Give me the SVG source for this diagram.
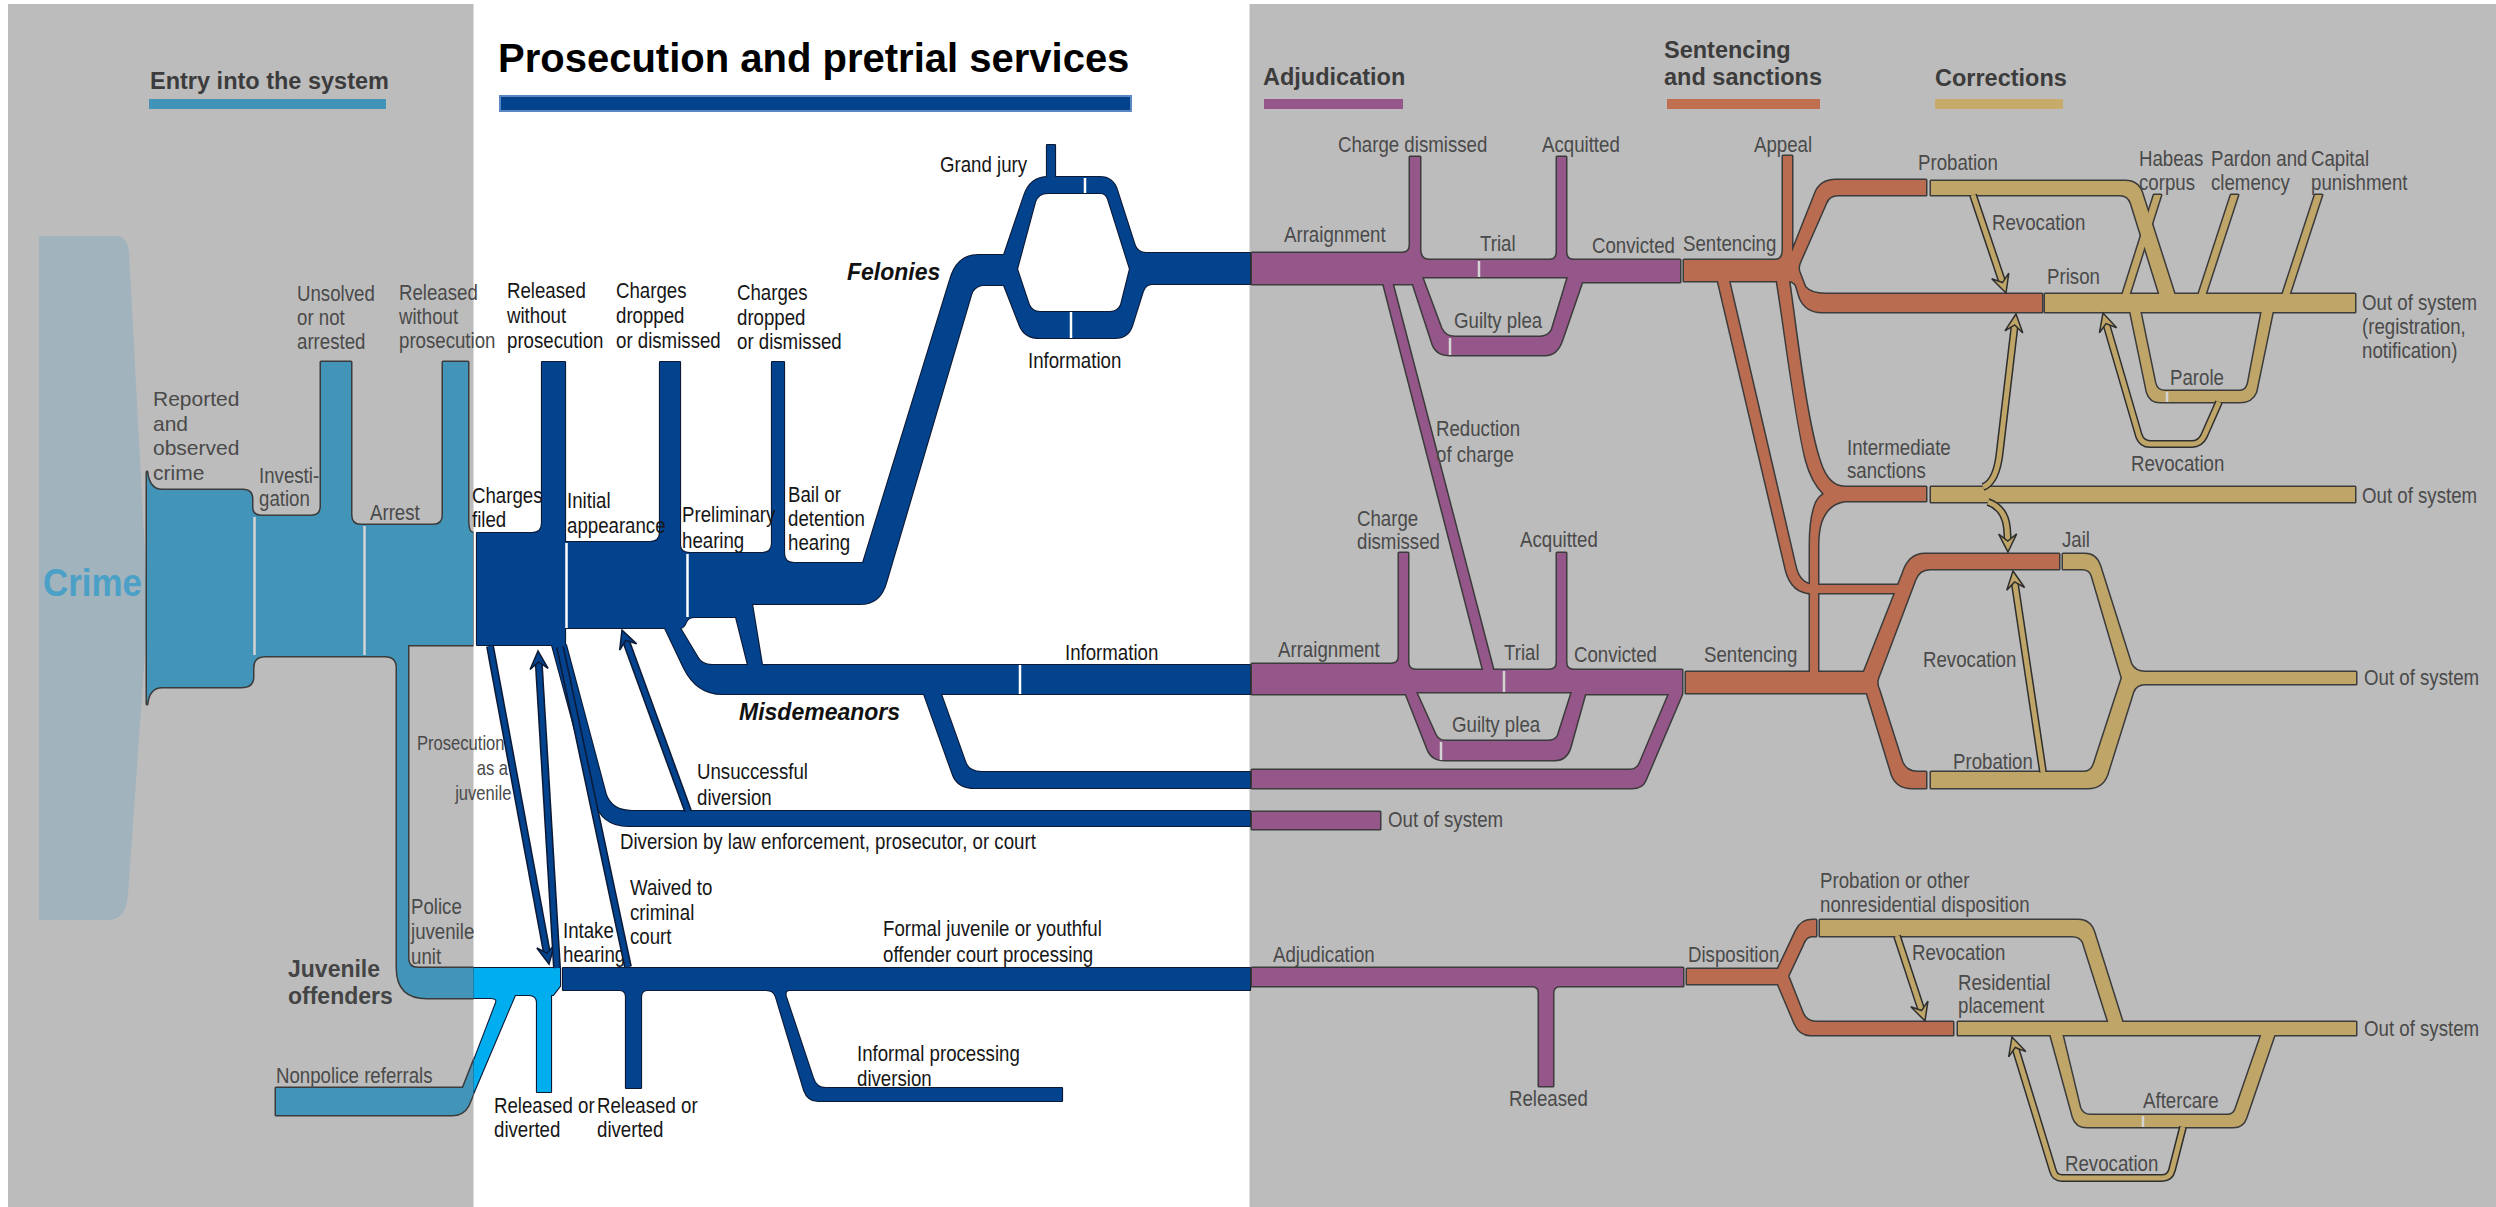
<svg xmlns="http://www.w3.org/2000/svg" width="2496" height="1207" viewBox="0 0 2496 1207">
<defs>
<style>
.ol{fill:#3b3b3b;stroke:#3b3b3b;stroke-width:3;stroke-linejoin:round}
.olw{fill:#0c1a36;stroke:#0c1a36;stroke-width:2.2;stroke-linejoin:round}
.fE{fill:#4295b8}
.fC{fill:#00aeef}
.fB{fill:#03428d}
.fP{fill:#955789}
.fO{fill:#b96c4f}
.fT{fill:#bfa668}
.sg{stroke:#d4d4d4;stroke-width:2.5}
.sw{stroke:#ffffff;stroke-width:2.5}
.aO{fill:none;stroke:#2e2e2e;stroke-width:8;stroke-linejoin:round}
.aOw{fill:none;stroke:#0c1a36;stroke-width:8;stroke-linejoin:round}
.aT{fill:none;stroke:#bfa668;stroke-width:5;stroke-linejoin:round}
.aB{fill:none;stroke:#03428d;stroke-width:5;stroke-linejoin:round}
.hT{fill:#bfa668;stroke:#2e2e2e;stroke-width:1.5}
.hB{fill:#03428d;stroke:#0c1a36;stroke-width:1.5}
text{font-family:"Liberation Sans",Arial,sans-serif;font-size:22.5px;fill:#4a4a4a}
.w{fill:#161616}
.r{font-size:21px}
.t{font-weight:bold;font-size:23.5px;fill:#3c3c3c}
.big{font-weight:bold;font-size:40px;fill:#000}
.bi{font-weight:bold;font-style:italic;font-size:23px;fill:#111}
.jb{font-weight:bold;font-size:23px;fill:#444}
.crime{font-weight:bold;font-size:38px;fill:#4aa0c6}
</style>
<clipPath id="cL"><rect x="0" y="0" width="473.5" height="1207"/></clipPath>
<clipPath id="cW"><rect x="473.5" y="0" width="776" height="1207"/></clipPath>
<polygon id="hd" points="0,0 -18,-9 -11,0 -18,9"/>
<g id="sE">
<path d="M147,472 Q149,490 162,490 H243 Q252,490 252,499 V507 Q252,516 261,516 H311 Q321,516 321,506 V362 H351 V515 Q351,525 361,525 H433 Q443,525 443,515 V362 H468 V520 Q468,533 473,533 V645 H408 V958 Q408,968 418,968 H482 V998 H427 Q397,998 397,968 V668 Q397,656 385,656 H265 Q253,656 253,668 V677 Q253,687 241,687 H162 Q149,687 147,704 Z"/>
<path d="M276,1088 H463 L478,1050 H492 L468,1106 Q463,1115 452,1115 H276 Z"/>
</g>
<g id="sC">
<path d="M466,968 H560 V986 L553,995 H551 V1092 H537 V1003 Q537,995 529,995 H515 L465,1113 V1084 L496,1003 Q498,998 490,998 H466 Z"/>
</g>
<g id="sB">
<path d="M477,533 H532 Q542,533 542,523 V362 H565 V542 H570 V628 H565 V645 H477 Z"/>
<path fill-rule="evenodd" d="M568,542 H650 Q660,542 660,532 V362 H680 V545 Q680,553 690,553 H762 Q772,553 772,543 V362 H784 V553 Q784,563 794,563 H863 L950,280 Q957,255 978,255 H1004 L1024,196 Q1030,177 1048,177 H1100 Q1113,177 1117,190 L1135,246 Q1138,253 1146,253 H1250 V284 H1152 Q1146,284 1143,291 L1132,326 Q1128,338 1115,338 H1040 Q1025,338 1020,326 L1004,285 H982 Q973,287 971,295 L886,583 Q880,604 860,604 H752 L762,665 H1250 V694 H722 Q697,694 684,668 L665,628 H568 Z M1017,269 L1035,202 Q1038,193 1048,193 H1100 Q1106,193 1108,199 L1130,269 L1121,305 Q1118,312 1110,312 H1040 Q1032,312 1029,305 Z M680,628 Q684,628 686,622 Q688,617 695,617 H736 L748,665 H712 Q702,665 698,658 Z"/>
<path d="M1047,145 H1055 V180 H1047 Z"/>
<path d="M552,645 H566 L606,795 Q612,811 632,811 H1250 V826 H628 Q602,826 594,800 Z"/>
<path d="M924,694 H941 L966,764 Q970,772 982,772 H1250 V788 H975 Q958,788 953,775 Z"/>
<path d="M563,968 H1250 V990 H790 Q784,990 786,997 L813,1078 Q816,1088 826,1088 H1062 V1101 H818 Q808,1101 804,1090 L776,997 Q774,990 766,990 H648 Q641,990 641,997 V1088 H626 V997 Q626,990 619,990 H563 Z"/>
</g>
<g id="sP">
<path fill-rule="evenodd" d="M1252,253 H1402 Q1410,253 1410,245 V157 H1420 V250 Q1420,260 1430,260 H1549 Q1557,260 1557,252 V157 H1566 V252 Q1566,260 1574,260 H1680 V282 H1582 L1562,340 Q1557,355 1545,355 H1450 Q1437,355 1433,345 L1413,284 H1252 Z M1422,277 H1568 L1552,330 Q1548,337 1540,337 H1455 Q1445,337 1441,328 Z"/>
<path d="M1383,282 H1392 L1494,673 H1484 Z"/>
<path fill-rule="evenodd" d="M1252,664 H1391 Q1399,664 1399,656 V553 H1408 V662 Q1408,670 1416,670 H1549 Q1557,670 1557,662 V553 H1566 V662 Q1566,670 1574,670 H1682 V694 L1645,781 Q1642,788 1632,788 H1252 V770 H1630 Q1637,770 1640,763 L1669,694 H1585 L1570,748 Q1566,760 1555,760 H1445 Q1432,760 1428,750 L1406,694 H1252 Z M1416,692 H1572 L1558,736 Q1555,741 1548,741 H1445 Q1438,741 1435,734 Z"/>
<path d="M1252,812 H1380 V829 H1252 Z"/>
<path d="M1252,968 H1683 V986 H1560 Q1553,986 1553,993 V1086 H1539 V993 Q1539,986 1532,986 H1252 Z"/>
</g>
<g id="sO">
<path d="M1684,260 H1775 Q1783,260 1783,250 V156 H1792 V252 L1815,194 Q1820,180 1836,180 H1926 V195 H1838 Q1829,195 1826,203 L1800,262 Q1797,268 1800,274 L1805,287 Q1811,294 1825,294 H2042 V312 H1822 Q1806,312 1800,298 L1796,285 Q1793,281 1788,281 H1684 Z"/>
<path d="M1777,281 H1789 C1796,330 1806,420 1820,462 Q1828,487 1845,487 H1926 V501 H1845 Q1828,503 1821,522 Q1818,532 1818,545 V675 H1810 V545 Q1810,518 1816,503 Q1819,497 1824,494 Q1812,482 1806,460 C1795,415 1785,330 1777,281 Z"/>
<path d="M1718,281 H1729 L1795,565 Q1799,585 1815,585 H1905 V593 H1812 Q1792,593 1786,570 Z"/>
<path d="M1686,672 H1864 L1903,573 Q1909,554 1925,554 H2059 V569 H1930 Q1919,569 1915,580 L1878,678 Q1876,684 1879,690 L1902,762 Q1906,772 1918,772 H1926 V788 H1912 Q1897,788 1892,775 L1867,693 H1686 Z"/>
<path d="M1687,969 H1778 L1796,931 Q1801,920 1812,920 H1816 V936 H1812 Q1806,936 1803,944 L1788,976 L1803,1014 Q1807,1022 1817,1022 H1953 V1035 H1810 Q1800,1035 1795,1024 L1778,984 H1687 Z"/>
</g>
<g id="sT">
<path d="M1931,181 H2125 Q2138,181 2142,193 L2175,296 H2160 L2131,203 Q2128,195 2120,195 H1931 Z"/>
<path d="M2045,294 H2355 V312 H2045 Z"/>
<path d="M2130,310 H2140 L2155,383 Q2157,391 2165,391 H2240 Q2246,391 2248,384 L2262,310 H2273 L2256,392 Q2252,402 2240,402 H2160 Q2150,402 2147,392 Z"/>
<path d="M2154,195 H2161 L2129,296 H2122 Z"/>
<path d="M2231,195 H2238 L2205,296 H2198 Z"/>
<path d="M2315,195 H2322 L2289,296 H2282 Z"/>
<path d="M1931,487 H2355 V502 H1931 Z"/>
<path d="M2063,554 H2085 Q2096,554 2100,566 L2131,664 Q2135,672 2145,672 H2356 V684 H2145 Q2136,684 2133,692 L2107,775 Q2102,788 2088,788 H1931 V772 H2084 Q2091,772 2094,764 L2122,678 L2092,576 Q2090,569 2082,569 H2063 Z"/>
<path d="M1820,920 H2078 Q2090,920 2094,932 L2123,1024 H2109 L2083,942 Q2080,936 2072,936 H1820 Z"/>
<path d="M1958,1022 H2356 V1035 H1958 Z"/>
<path d="M2050,1033 H2062 L2080,1108 Q2083,1115 2090,1115 H2228 Q2234,1115 2236,1108 L2262,1033 H2275 L2246,1118 Q2243,1127 2233,1127 H2087 Q2076,1127 2073,1117 Z"/>
</g>
</defs>

<rect x="0" y="0" width="2496" height="1207" fill="#ffffff"/>
<rect x="8" y="4" width="465.5" height="1203" fill="#bcbcbc"/>
<rect x="1249.5" y="4" width="1246.5" height="1203" fill="#bcbcbc"/>

<g id="titles">
<text class="t" x="150" y="89">Entry into the system</text>
<rect x="149" y="99" width="237" height="10" fill="#4194b7"/>
<text class="big" x="498" y="72">Prosecution and pretrial services</text>
<rect x="500" y="96" width="631" height="15" fill="#03428d" stroke="#5b87c2" stroke-width="2"/>
<text class="t" x="1263" y="85">Adjudication</text>
<rect x="1264" y="99" width="139" height="10" fill="#955789"/>
<text class="t" x="1664" y="58">Sentencing</text>
<text class="t" x="1664" y="85">and sanctions</text>
<rect x="1667" y="99" width="153" height="10" fill="#bf6f50"/>
<text class="t" x="1935" y="86">Corrections</text>
<rect x="1935" y="99" width="128" height="10" fill="#c6ab6a"/>
</g>

<g id="entry">
<path d="M39,236 H116 Q127,236 129,252 L148,610 L128,895 Q126,920 108,920 H39 Z" fill="#a1b3bd"/>
<text class="crime" x="43" y="596" textLength="99" lengthAdjust="spacingAndGlyphs">Crime</text>
<g clip-path="url(#cL)">
<use href="#sE" class="ol"/>
<use href="#sE" class="fE"/>
</g>
<line class="sg" x1="254.5" y1="517" x2="254.5" y2="655"/>
<line class="sg" x1="364.5" y1="526" x2="364.5" y2="655"/>
<text transform="translate(297 0) scale(.83 1)"><tspan x="0" y="301">Unsolved</tspan><tspan x="0" y="325">or not</tspan><tspan x="0" y="349">arrested</tspan></text>
<text transform="translate(399 0) scale(.83 1)"><tspan x="0" y="300">Released</tspan><tspan x="0" y="324">without</tspan><tspan x="0" y="348">prosecution</tspan></text>
<text class="r"><tspan x="153" y="406">Reported</tspan><tspan x="153" y="431">and</tspan><tspan x="153" y="455">observed</tspan><tspan x="153" y="480">crime</tspan></text>
<text transform="translate(259 0) scale(.83 1)"><tspan x="0" y="483">Investi-</tspan><tspan x="0" y="506">gation</tspan></text>
<text transform="translate(370 0) scale(.83 1)" y="520">Arrest</text>
<text class="w" transform="translate(472 0) scale(.83 1)"><tspan x="0" y="503">Charges</tspan><tspan x="0" y="527">filed</tspan></text>
<text style="font-size:20px" transform="translate(417 0) scale(.83 1)"><tspan x="0" y="750">Prosecution</tspan><tspan x="72" y="775">as a</tspan><tspan x="46" y="800">juvenile</tspan></text>
<text transform="translate(411 0) scale(.83 1)"><tspan x="0" y="914">Police</tspan><tspan x="0" y="939">juvenile</tspan><tspan x="0" y="964">unit</tspan></text>
<text class="jb"><tspan x="288" y="977">Juvenile</tspan><tspan x="288" y="1004">offenders</tspan></text>
<text transform="translate(276 0) scale(.83 1)" y="1083">Nonpolice referrals</text>
</g>

<g id="juvenile-intake">
<g clip-path="url(#cW)">
<use href="#sC" class="olw"/>
<use href="#sC" class="fC"/>
</g>
</g>

<g id="prosecution">
<use href="#sB" class="olw"/>
<use href="#sB" class="fB"/>
<line class="sw" x1="566.5" y1="543" x2="566.5" y2="628"/>
<line class="sw" x1="687.5" y1="554" x2="687.5" y2="617"/>
<line class="sw" x1="1085" y1="178" x2="1085" y2="193"/>
<line class="sw" x1="1071" y1="312" x2="1071" y2="338"/>
<line class="sw" x1="1020" y1="665" x2="1020" y2="694"/>
<text class="w" transform="translate(507 0) scale(.83 1)"><tspan x="0" y="298">Released</tspan><tspan x="0" y="323">without</tspan><tspan x="0" y="348">prosecution</tspan></text>
<text class="w" transform="translate(616 0) scale(.83 1)"><tspan x="0" y="298">Charges</tspan><tspan x="0" y="323">dropped</tspan><tspan x="0" y="348">or dismissed</tspan></text>
<text class="w" transform="translate(737 0) scale(.83 1)"><tspan x="0" y="300">Charges</tspan><tspan x="0" y="325">dropped</tspan><tspan x="0" y="349">or dismissed</tspan></text>
<text class="w" transform="translate(567 0) scale(.83 1)"><tspan x="0" y="508">Initial</tspan><tspan x="0" y="533">appearance</tspan></text>
<text class="w" transform="translate(682 0) scale(.83 1)"><tspan x="0" y="522">Preliminary</tspan><tspan x="0" y="548">hearing</tspan></text>
<text class="w" transform="translate(788 0) scale(.83 1)"><tspan x="0" y="502">Bail or</tspan><tspan x="0" y="526">detention</tspan><tspan x="0" y="550">hearing</tspan></text>
<text class="bi" x="847" y="280">Felonies</text>
<text class="w" transform="translate(940 0) scale(.83 1)" y="172">Grand jury</text>
<text class="w" transform="translate(1028 0) scale(.83 1)" y="368">Information</text>
<text class="w" transform="translate(1065 0) scale(.83 1)" y="660">Information</text>
<text class="bi" x="739" y="720">Misdemeanors</text>
<text class="w" transform="translate(697 0) scale(.83 1)"><tspan x="0" y="779">Unsuccessful</tspan><tspan x="0" y="805">diversion</tspan></text>
<text class="w" transform="translate(620 0) scale(.83 1)" y="849">Diversion by law enforcement, prosecutor, or court</text>
<text class="w" transform="translate(630 0) scale(.83 1)"><tspan x="0" y="895">Waived to</tspan><tspan x="0" y="920">criminal</tspan><tspan x="0" y="944">court</tspan></text>
<text class="w" transform="translate(563 0) scale(.83 1)"><tspan x="0" y="938">Intake</tspan><tspan x="0" y="962">hearing</tspan></text>
<text class="w" transform="translate(883 0) scale(.83 1)"><tspan x="0" y="936">Formal juvenile or youthful</tspan><tspan x="0" y="962">offender court processing</tspan></text>
<text class="w" transform="translate(857 0) scale(.83 1)"><tspan x="0" y="1061">Informal processing</tspan><tspan x="0" y="1086">diversion</tspan></text>
<text class="w" transform="translate(494 0) scale(.83 1)"><tspan x="0" y="1113">Released or</tspan><tspan x="0" y="1137">diverted</tspan></text>
<text class="w" transform="translate(597 0) scale(.83 1)"><tspan x="0" y="1113">Released or</tspan><tspan x="0" y="1137">diverted</tspan></text>
</g>

<g id="adjudication">
<use href="#sP" class="ol"/>
<use href="#sP" class="fP"/>
<line class="sg" x1="1479" y1="261" x2="1479" y2="277"/>
<line class="sg" x1="1450" y1="338" x2="1450" y2="355"/>
<line class="sg" x1="1504" y1="671" x2="1504" y2="692"/>
<line class="sg" x1="1441" y1="742" x2="1441" y2="760"/>
<text transform="translate(1338 0) scale(.83 1)" y="152">Charge dismissed</text>
<text transform="translate(1542 0) scale(.83 1)" y="152">Acquitted</text>
<text transform="translate(1284 0) scale(.83 1)" y="242">Arraignment</text>
<text transform="translate(1480 0) scale(.83 1)" y="251">Trial</text>
<text transform="translate(1592 0) scale(.83 1)" y="253">Convicted</text>
<text transform="translate(1454 0) scale(.83 1)" y="328">Guilty plea</text>
<text transform="translate(1436 0) scale(.83 1)"><tspan x="0" y="436">Reduction</tspan><tspan x="0" y="462">of charge</tspan></text>
<text transform="translate(1357 0) scale(.83 1)"><tspan x="0" y="526">Charge</tspan><tspan x="0" y="549">dismissed</tspan></text>
<text transform="translate(1520 0) scale(.83 1)" y="547">Acquitted</text>
<text transform="translate(1278 0) scale(.83 1)" y="657">Arraignment</text>
<text transform="translate(1504 0) scale(.83 1)" y="660">Trial</text>
<text transform="translate(1574 0) scale(.83 1)" y="662">Convicted</text>
<text transform="translate(1452 0) scale(.83 1)" y="732">Guilty plea</text>
<text transform="translate(1388 0) scale(.83 1)" y="827">Out of system</text>
<text transform="translate(1273 0) scale(.83 1)" y="962">Adjudication</text>
<text transform="translate(1509 0) scale(.83 1)" y="1106">Released</text>
</g>

<g id="sentencing">
<use href="#sO" class="ol"/>
<use href="#sO" class="fO"/>
<text transform="translate(1683 0) scale(.83 1)" y="251">Sentencing</text>
<text transform="translate(1754 0) scale(.83 1)" y="152">Appeal</text>
<text transform="translate(1704 0) scale(.83 1)" y="662">Sentencing</text>
<text transform="translate(1688 0) scale(.83 1)" y="962">Disposition</text>
<text transform="translate(1847 0) scale(.83 1)"><tspan x="0" y="455">Intermediate</tspan><tspan x="0" y="478">sanctions</tspan></text>
</g>

<g id="corrections">
<use href="#sT" class="ol"/>
<use href="#sT" class="fT"/>
<line class="sg" x1="2167" y1="392" x2="2167" y2="402"/>
<line class="sg" x1="2143" y1="1116" x2="2143" y2="1127"/>
<text transform="translate(1918 0) scale(.83 1)" y="170">Probation</text>
<text transform="translate(2047 0) scale(.83 1)" y="284">Prison</text>
<text transform="translate(2139 0) scale(.83 1)"><tspan x="0" y="166">Habeas</tspan><tspan x="0" y="190">corpus</tspan></text>
<text transform="translate(2211 0) scale(.83 1)"><tspan x="0" y="166">Pardon and</tspan><tspan x="0" y="190">clemency</tspan></text>
<text transform="translate(2311 0) scale(.83 1)"><tspan x="0" y="166">Capital</tspan><tspan x="0" y="190">punishment</tspan></text>
<text transform="translate(2362 0) scale(.83 1)"><tspan x="0" y="310">Out of system</tspan><tspan x="0" y="334">(registration,</tspan><tspan x="0" y="358">notification)</tspan></text>
<text transform="translate(2170 0) scale(.83 1)" y="385">Parole</text>
<text transform="translate(2362 0) scale(.83 1)" y="503">Out of system</text>
<text transform="translate(2062 0) scale(.83 1)" y="547">Jail</text>
<text transform="translate(2364 0) scale(.83 1)" y="685">Out of system</text>
<text transform="translate(1953 0) scale(.83 1)" y="769">Probation</text>
<text transform="translate(1820 0) scale(.83 1)"><tspan x="0" y="888">Probation or other</tspan><tspan x="0" y="912">nonresidential disposition</tspan></text>
<text transform="translate(1958 0) scale(.83 1)"><tspan x="0" y="990">Residential</tspan><tspan x="0" y="1013">placement</tspan></text>
<text transform="translate(2364 0) scale(.83 1)" y="1036">Out of system</text>
<text transform="translate(2143 0) scale(.83 1)" y="1108">Aftercare</text>
</g>

<g id="connectors">
<path class="aOw" d="M490,646 L547,953.2"/>
<path class="aB" d="M490,646 L547,953.2"/>
<use href="#hd" class="hB" transform="translate(549,964) rotate(79.5)"/>
<path class="aOw" d="M557,968 L538.7,662"/>
<path class="aB" d="M557,968 L538.7,662"/>
<use href="#hd" class="hB" transform="translate(538,651) rotate(-93.4)"/>
<path class="aOw" d="M560,647 L628,967"/>
<path class="aB" d="M560,647 L628,967"/>
<path class="aOw" d="M688,811 L625.8,640.3"/>
<path class="aB" d="M688,811 L625.8,640.3"/>
<use href="#hd" class="hB" transform="translate(622,630) rotate(-110)"/>

<path class="aO" d="M1973,195 L2002.5,282.6"/>
<path class="aT" d="M1973,195 L2002.5,282.6"/>
<use href="#hd" class="hT" transform="translate(2006,293) rotate(71.4)"/>
<path class="aO" d="M1983,487 Q1997,482 2000,450 L2014.7,325"/>
<path class="aT" d="M1983,487 Q1997,482 2000,450 L2014.7,325"/>
<use href="#hd" class="hT" transform="translate(2016,314) rotate(-83.2)"/>
<path class="aO" d="M1988,502 Q2005,508 2007,528 L2007.8,541"/>
<path class="aT" d="M1988,502 Q2005,508 2007,528 L2007.8,541"/>
<use href="#hd" class="hT" transform="translate(2008,552) rotate(89)"/>
<path class="aO" d="M2043,772 L2014.6,581.9"/>
<path class="aT" d="M2043,772 L2014.6,581.9"/>
<use href="#hd" class="hT" transform="translate(2013,571) rotate(-98.5)"/>
<path class="aO" d="M2219,402 L2204,436 Q2200,444 2192,444 H2150 Q2142,444 2139,436 L2106.1,323.5"/>
<path class="aT" d="M2219,402 L2204,436 Q2200,444 2192,444 H2150 Q2142,444 2139,436 L2106.1,323.5"/>
<use href="#hd" class="hT" transform="translate(2103,313) rotate(-106.3)"/>
<path class="aO" d="M1897,936 L1921.6,1010.6"/>
<path class="aT" d="M1897,936 L1921.6,1010.6"/>
<use href="#hd" class="hT" transform="translate(1925,1021) rotate(71.8)"/>
<path class="aO" d="M2183,1127 L2172,1170 Q2170,1178 2162,1178 H2062 Q2055,1178 2053,1171 L2015.2,1047.5"/>
<path class="aT" d="M2183,1127 L2172,1170 Q2170,1178 2162,1178 H2062 Q2055,1178 2053,1171 L2015.2,1047.5"/>
<use href="#hd" class="hT" transform="translate(2012,1037) rotate(-107)"/>
</g>

<g id="connector-labels">
<text transform="translate(1992 0) scale(.83 1)" y="230">Revocation</text>
<text transform="translate(2131 0) scale(.83 1)" y="471">Revocation</text>
<text transform="translate(1923 0) scale(.83 1)" y="667">Revocation</text>
<text transform="translate(1912 0) scale(.83 1)" y="960">Revocation</text>
<text transform="translate(2065 0) scale(.83 1)" y="1171">Revocation</text>
</g>
</svg>
